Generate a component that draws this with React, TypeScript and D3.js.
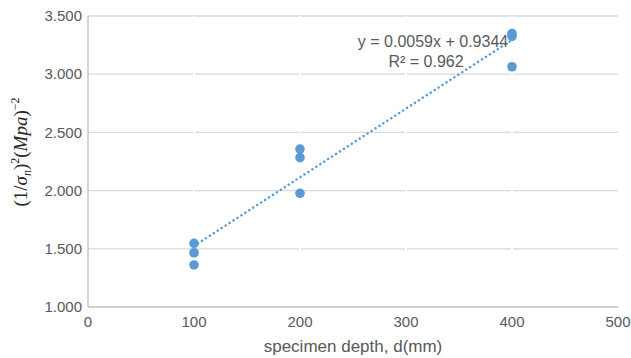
import React from "react";
import * as d3 from "d3";

const depths = [100, 100, 100, 200, 200, 200, 400, 400, 400];
const values = [1.547, 1.466, 1.361, 2.357, 2.283, 1.977, 3.35, 3.325, 3.064];
const xTicks = [0, 100, 200, 300, 400, 500];
const yTicks = [1.0, 1.5, 2.0, 2.5, 3.0, 3.5];
const slope = 0.0059;
const intercept = 0.9344;
const equationText = "y = 0.0059x + 0.9344";
const r2Text = "R² = 0.962";

const W = 631;
const H = 358;
const left = 88;
const right = 618;
const top = 16;
const bottom = 307;

export default function App() {
  const x = d3.scaleLinear().domain([0, 500]).range([left, right]);
  const y = d3.scaleLinear().domain([1, 3.5]).range([bottom, top]);
  const fmt = d3.format(".3f");
  const xMin = d3.min(depths) as number;
  const xMax = d3.max(depths) as number;
  const trend = d3.line<number>()
    .x((d) => x(d))
    .y((d) => y(slope * d + intercept));
  const font = "'Liberation Sans', Arial, sans-serif";
  const color = "#5B9BD5";
  const textColor = "#595959";

  return (
    <svg
      width={W}
      height={H}
      style={{ position: "absolute", left: 0, top: 0, background: "#fff" }}
    >
      {yTicks.slice(1).map((t) => (
        <line key={"g" + t} x1={left} x2={right} y1={y(t)} y2={y(t)} stroke="#D9D9D9" strokeWidth={1.3} />
      ))}
      {xTicks.slice(1, -1).map((t) => (
        <line key={"v" + t} x1={x(t)} x2={x(t)} y1={top} y2={bottom - 2} stroke="#fff" strokeWidth={2} />
      ))}
      <line x1={left} x2={left} y1={top} y2={bottom} stroke="#BFBFBF" strokeWidth={1.3} />
      <line x1={left} x2={right} y1={bottom} y2={bottom} stroke="#BFBFBF" strokeWidth={1.3} />
      {yTicks.map((t) => (
        <text key={"yl" + t} x={left - 6} y={y(t)} dy="0.35em" textAnchor="end" fontFamily={font} fontSize={15} fill={textColor}>
          {fmt(t)}
        </text>
      ))}
      {xTicks.map((t) => (
        <text key={"xl" + t} x={x(t)} y={bottom + 20} textAnchor="middle" fontFamily={font} fontSize={15} fill={textColor}>
          {t}
        </text>
      ))}
      <path
        d={trend([xMin, xMax]) || ""}
        fill="none"
        stroke={color}
        strokeWidth={2.5}
        strokeDasharray="0.1 4.6"
        strokeLinecap="round"
      />
      {depths.map((d, i) => (
        <circle key={"p" + i} cx={x(d)} cy={y(values[i])} r={4.8} fill={color} />
      ))}
      <text x={433} y={46.5} textAnchor="middle" fontFamily={font} fontSize={16} fill={textColor}>
        {equationText}
      </text>
      <text x={426} y={66.5} textAnchor="middle" fontFamily={font} fontSize={16} fill={textColor}>
        {r2Text}
      </text>
      <text x={(left + right) / 2} y={352} textAnchor="middle" fontFamily={font} fontSize={17} fill={textColor}>
        specimen depth, d(mm)
      </text>
      <text
        transform={`translate(27,152) rotate(-90)`}
        textAnchor="middle"
        fontFamily="'Liberation Serif', 'DejaVu Serif', serif"
        fontSize={19}
        fill="#262626"
      >
        <tspan>(1/</tspan>
        <tspan fontStyle="italic">σ</tspan>
        <tspan fontStyle="italic" fontSize={12} dy={4}>n</tspan>
        <tspan dy={-4}>)</tspan>
        <tspan fontSize={12} dy={-8}>2</tspan>
        <tspan dy={8}>(</tspan>
        <tspan fontStyle="italic">Mpa</tspan>
        <tspan>)</tspan>
        <tspan fontSize={12} dy={-8}>−2</tspan>
      </text>
    </svg>
  );
}
